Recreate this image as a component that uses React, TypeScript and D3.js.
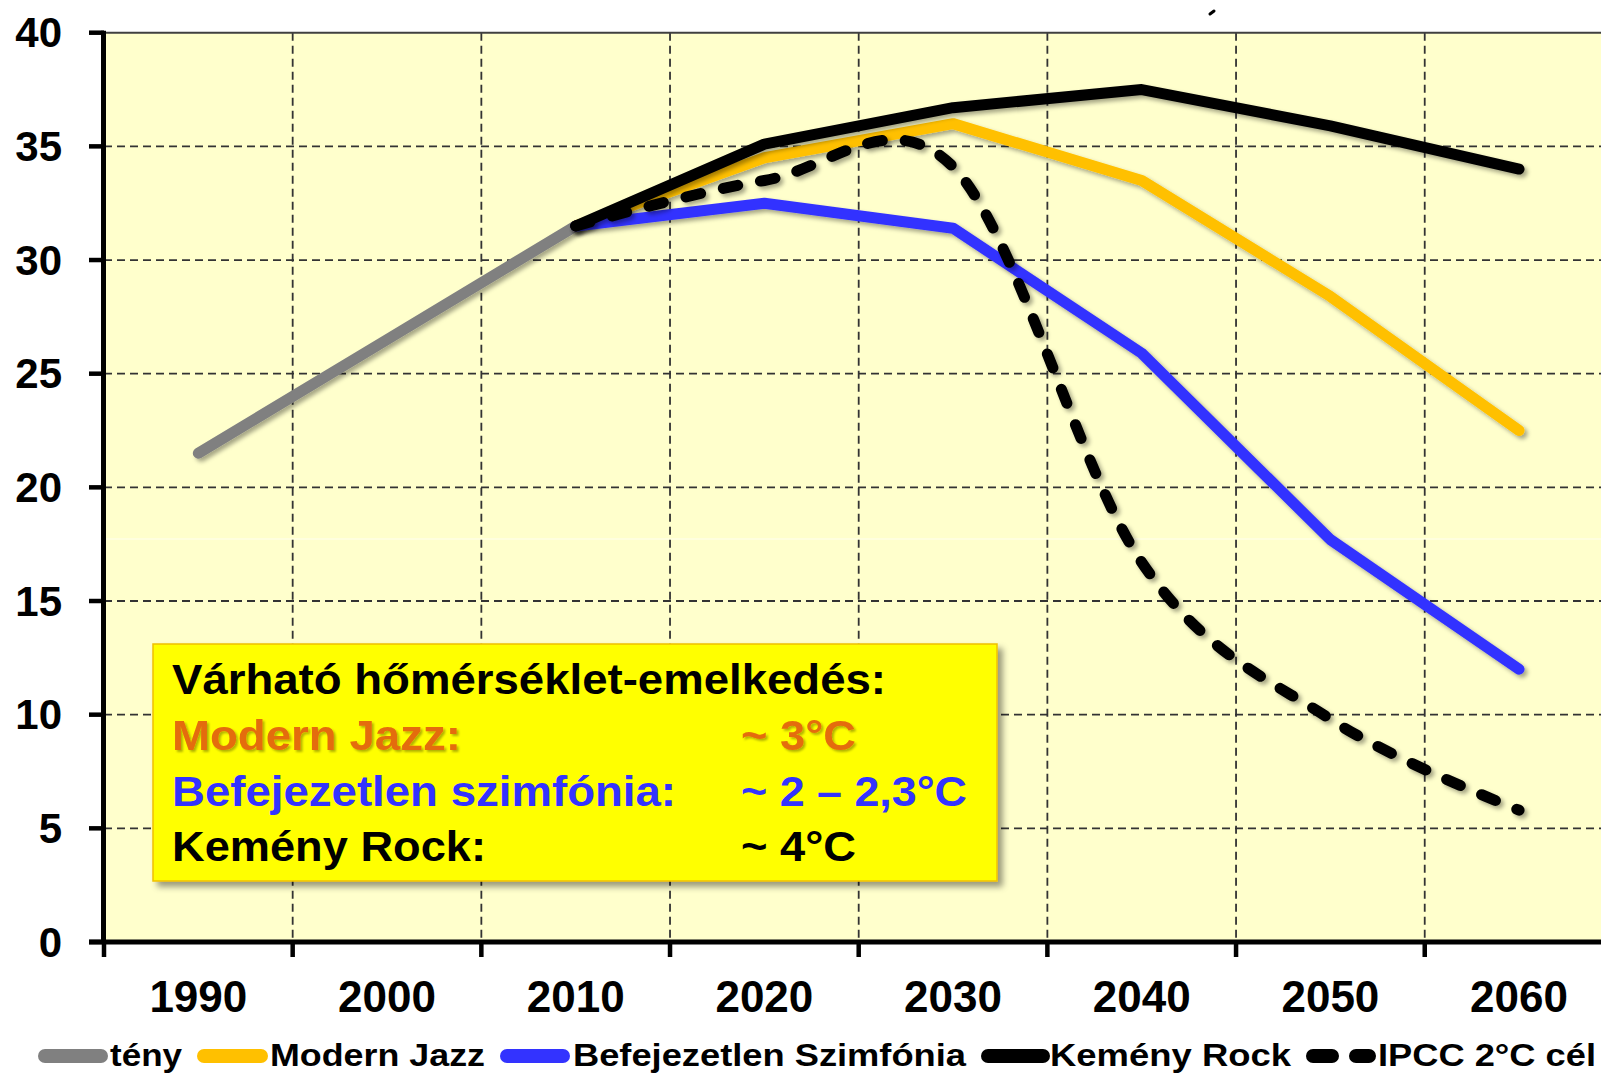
import React from "react";
import * as d3 from "d3";

const years = ["1990", "2000", "2010", "2020", "2030", "2040", "2050", "2060"];
const teny: (number | null)[] = [21.5, 26.5, 31.5, null, null, null, null, null];
const modernJazz: (number | null)[] = [null, null, 31.5, 34.5, 36.0, 33.5, 28.4, 22.5];
const befejezetlen: (number | null)[] = [null, null, 31.5, 32.5, 31.4, 25.9, 17.7, 12.0];
const kemenyRock: (number | null)[] = [null, null, 31.5, 35.1, 36.7, 37.5, 35.9, 34.0];
const ipcc: (number | null)[] = [null, null, 31.5, 33.5, 34.1, 16.7, 9.8, 5.8];
const yTicks = [0, 5, 10, 15, 20, 25, 30, 35, 40];

const legendLabels = ["tény", "Modern Jazz", "Befejezetlen Szimfónia", "Kemény Rock", "IPCC 2°C cél"];
const boxTitle = "Várható hőmérséklet-emelkedés:";
const boxNames = ["Modern Jazz:", "Befejezetlen szimfónia:", "Kemény Rock:"];
const boxValues = ["~ 3°C", "~ 2 – 2,3°C", "~ 4°C"];

const W = 1601;
const H = 1074;
const FONT = "'Liberation Sans', Arial, Helvetica, sans-serif";

export default function App() {
  const x = d3.scaleBand<string>().domain(years).range([104, 1613.4]).padding(0);
  const y = d3.scaleLinear().domain([0, 40]).range([942, 32.7]);
  const bw = x.bandwidth();
  const cx = (i: number) => (x(years[i]) as number) + bw / 2;

  const mk = (curve?: d3.CurveFactory) => {
    const g = d3
      .line<number | null>()
      .defined((d) => d != null)
      .x((_, i) => cx(i))
      .y((d) => y(d as number));
    if (curve) g.curve(curve);
    return g;
  };
  const straight = mk();
  const smooth = mk(d3.curveCatmullRom.alpha(0));

  const series = [
    { data: teny, color: "#808080", dash: undefined as string | undefined, gen: straight },
    { data: modernJazz, color: "#FFC000", dash: undefined, gen: straight },
    { data: befejezetlen, color: "#3333FF", dash: undefined, gen: straight },
    { data: kemenyRock, color: "#000000", dash: undefined, gen: straight },
    { data: ipcc, color: "#000000", dash: "15,23", gen: smooth },
  ];

  const plotLeft = 104;
  const plotRight = 1613.4;
  const plotTop = y(40);
  const plotBottom = y(0);

  const legendItems = [
    { x1: 45, x2: 101, tx: 110, tl: 72 },
    { x1: 204, x2: 261, tx: 270, tl: 215 },
    { x1: 507, x2: 563, tx: 573, tl: 393 },
    { x1: 988, x2: 1043, tx: 1050, tl: 241 },
    { x1: 1313, x2: 1369, tx: 1378, tl: 218 },
  ];
  const legendY = 1056;

  const boxLines = [694, 750, 805.5, 860.5];
  const nameLens = [289, 504, 314];
  const valLens = [115, 226, 115];
  const colors = ["#E46C0A", "#3333FF", "#000000"];

  return (
    <svg
      width={W}
      height={H}
      style={{ position: "absolute", left: 0, top: 0, background: "#ffffff" }}
      fontFamily={FONT}
    >
      <defs>
        <filter id="lineShadow" filterUnits="userSpaceOnUse" x={0} y={0} width={W} height={H}>
          <feDropShadow dx={3} dy={3} stdDeviation={2} floodColor="#000" floodOpacity={0.35} />
        </filter>
        <filter id="boxShadow" filterUnits="userSpaceOnUse" x={0} y={0} width={W} height={H}>
          <feDropShadow dx={5} dy={5} stdDeviation={3} floodColor="#000" floodOpacity={0.4} />
        </filter>
        <filter id="textShadow" filterUnits="userSpaceOnUse" x={0} y={0} width={W} height={H}>
          <feDropShadow dx={2} dy={2} stdDeviation={1} floodColor="#000" floodOpacity={0.3} />
        </filter>
      </defs>

      <rect x={plotLeft} y={plotTop} width={plotRight - plotLeft} height={plotBottom - plotTop} fill="#FFFFCC" />

      <line x1={plotLeft} x2={plotRight} y1={539} y2={539} stroke="#ffffff" strokeOpacity={0.7} strokeWidth={1} />

      {yTicks
        .filter((t) => t > 0 && t < 40)
        .map((t) => (
          <line
            key={"h" + t}
            x1={plotLeft}
            x2={plotRight}
            y1={y(t)}
            y2={y(t)}
            stroke="#333"
            strokeWidth={1.8}
            strokeDasharray="8,5"
          />
        ))}
      {years.slice(1).map((yr) => (
        <line
          key={"v" + yr}
          x1={x(yr) as number}
          x2={x(yr) as number}
          y1={plotTop}
          y2={plotBottom}
          stroke="#333"
          strokeWidth={1.8}
          strokeDasharray="8,5"
        />
      ))}

      <line x1={plotLeft} x2={plotRight} y1={plotTop} y2={plotTop} stroke="#404040" strokeWidth={2} />

      <rect x={153} y={644} width={844} height={237} fill="#FFFF00" stroke="#F0C000" strokeWidth={1.5} filter="url(#boxShadow)" />
      <text x={172} y={boxLines[0]} fontSize={43} fontWeight="bold" fill="#000" textLength={714} lengthAdjust="spacingAndGlyphs">
        {boxTitle}
      </text>
      {boxNames.map((n, i) => (
        <g key={n} filter={i === 0 ? "url(#textShadow)" : undefined}>
          <text
            x={172}
            y={boxLines[i + 1]}
            fontSize={43}
            fontWeight="bold"
            fill={colors[i]}
            textLength={nameLens[i]}
            lengthAdjust="spacingAndGlyphs"
          >
            {n}
          </text>
          <text
            x={741}
            y={boxLines[i + 1]}
            fontSize={43}
            fontWeight="bold"
            fill={colors[i]}
            textLength={valLens[i]}
            lengthAdjust="spacingAndGlyphs"
          >
            {boxValues[i]}
          </text>
        </g>
      ))}

      {series.map((s, i) => (
        <path
          key={"s" + i}
          d={s.gen(s.data) || ""}
          fill="none"
          stroke={s.color}
          strokeWidth={11}
          strokeLinecap="round"
          strokeLinejoin="round"
          strokeDasharray={s.dash}
          filter="url(#lineShadow)"
        />
      ))}

      <line x1={103.5} x2={103.5} y1={plotTop - 2} y2={plotBottom + 2} stroke="#000" strokeWidth={5} />
      <line x1={89} x2={plotRight} y1={plotBottom} y2={plotBottom} stroke="#000" strokeWidth={5} />
      {yTicks.map((t) => (
        <line key={"yt" + t} x1={89} x2={104} y1={y(t)} y2={y(t)} stroke="#000" strokeWidth={4.5} />
      ))}
      {years.concat(["end"]).map((yr, i) => {
        const xx = i < years.length ? (x(yr) as number) : plotRight;
        return <line key={"xt" + i} x1={xx} x2={xx} y1={plotBottom} y2={957} stroke="#000" strokeWidth={4.5} />;
      })}

      {yTicks.map((t) => (
        <text key={"yl" + t} x={62} y={y(t) + 14.5} textAnchor="end" fontSize={42} fontWeight="bold" fill="#000">
          {t}
        </text>
      ))}
      {years.map((yr, i) => (
        <text key={"xl" + yr} x={cx(i)} y={1011.5} textAnchor="middle" fontSize={44} fontWeight="bold" fill="#000">
          {yr}
        </text>
      ))}

      {legendItems.map((it, i) => (
        <g key={"lg" + i}>
          <line
            x1={it.x1}
            x2={it.x2}
            y1={legendY}
            y2={legendY}
            stroke={series[i].color}
            strokeWidth={14}
            strokeLinecap="round"
            strokeDasharray={i === 4 ? "19,24" : undefined}
          />
          <text x={it.tx} y={1066} fontSize={32} fontWeight="bold" fill="#000" textLength={it.tl} lengthAdjust="spacingAndGlyphs">
            {legendLabels[i]}
          </text>
        </g>
      ))}

      <line x1={1210} x2={1214} y1={14} y2={11} stroke="#000" strokeWidth={3} strokeLinecap="round" />
    </svg>
  );
}
